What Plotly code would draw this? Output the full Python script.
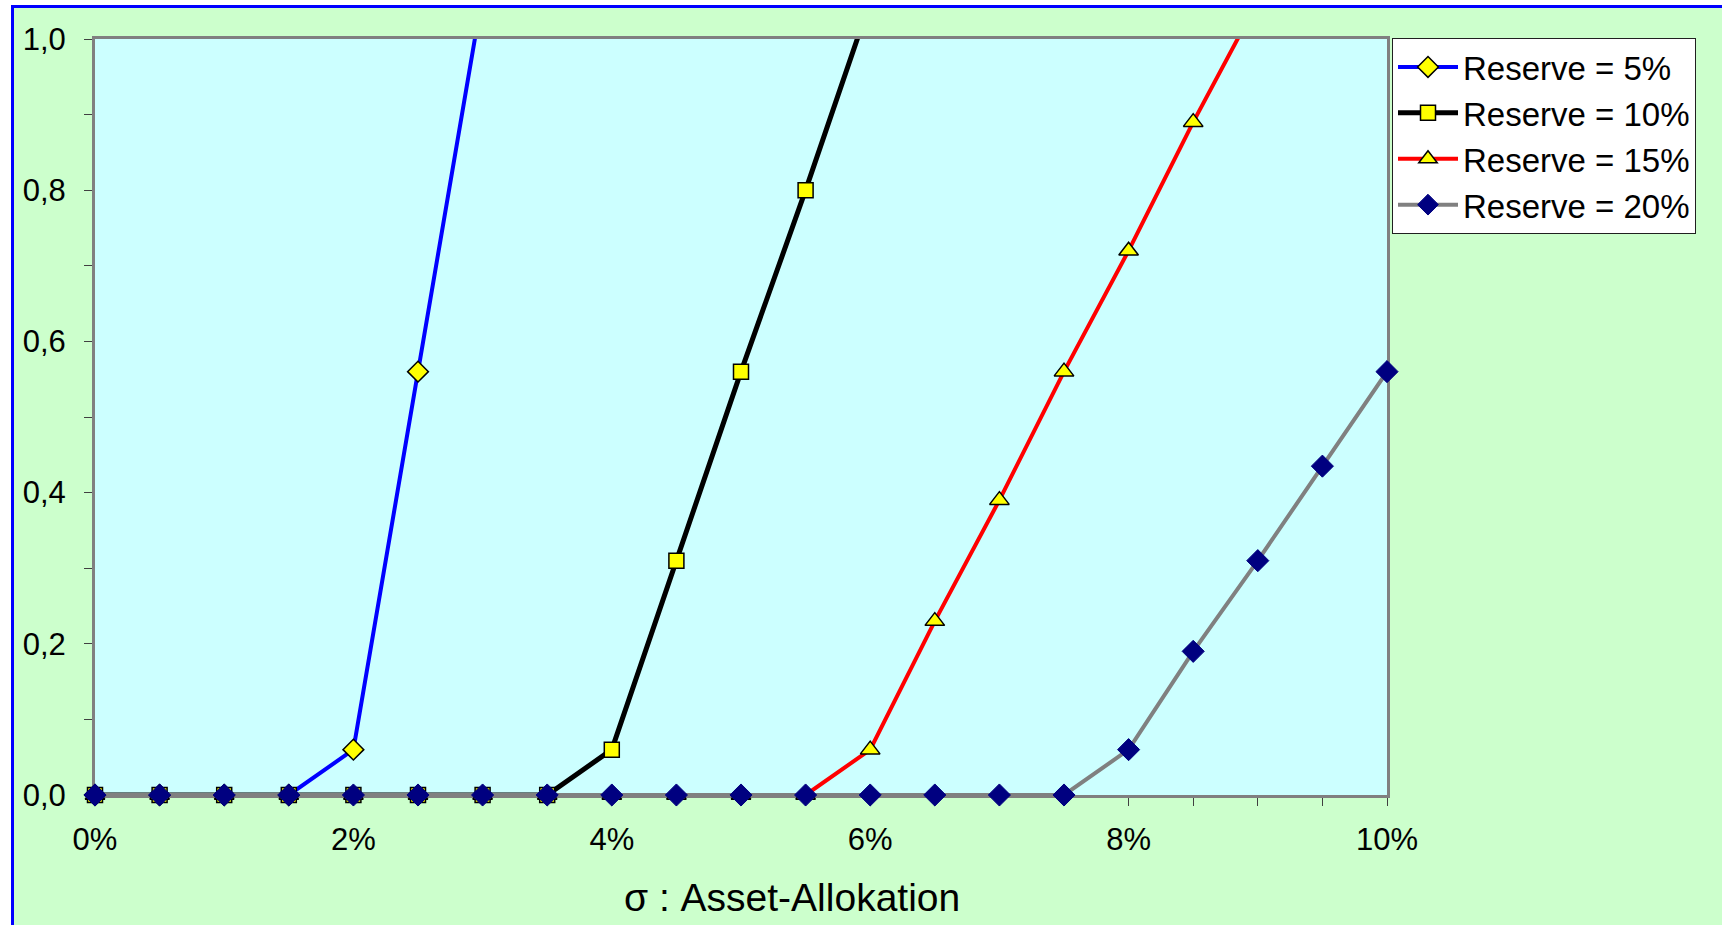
import plotly.graph_objects as go

# sigma of the asset allocation (fraction) and the probability for each reserve level
sigma = [0.000, 0.005, 0.010, 0.015, 0.020, 0.025, 0.030, 0.035, 0.040, 0.045,
         0.050, 0.055, 0.060, 0.065, 0.070, 0.075, 0.080, 0.085, 0.090, 0.095, 0.100]

reserve_names = ["Reserve = 5%", "Reserve = 10%", "Reserve = 15%", "Reserve = 20%"]

res_5 = [0.0, 0.0, 0.0, 0.0, 0.06, 0.56, 1.06]
res_10 = [0.0, 0.0, 0.0, 0.0, 0.0, 0.0, 0.0, 0.0, 0.06, 0.31, 0.56, 0.80, 1.05]
res_15 = [0.0, 0.0, 0.0, 0.0, 0.0, 0.0, 0.0, 0.0, 0.0, 0.0, 0.0, 0.0,
          0.06, 0.23, 0.39, 0.56, 0.72, 0.89, 1.05]
res_20 = [0.0, 0.0, 0.0, 0.0, 0.0, 0.0, 0.0, 0.0, 0.0, 0.0, 0.0, 0.0,
          0.0, 0.0, 0.0, 0.0, 0.06, 0.19, 0.31, 0.435, 0.56]

y_ticks = [0.0, 0.2, 0.4, 0.6, 0.8, 1.0]
x_ticks = [0.00, 0.02, 0.04, 0.06, 0.08, 0.10]

FONT = "Liberation Sans, Arial, sans-serif"
W, H = 1722, 925
L, R, T, B = 95, 335, 39, 130
PW, PH = W - L - R, H - T - B


def px_x(p):
    return (p - L) / PW


def px_y(p):
    return (H - B - p) / PH


styles = [
    dict(line=dict(color="#0000FF", width=4),
         marker=dict(symbol="diamond", size=16, color="#FFFF00",
                     line=dict(color="#000000", width=1.5))),
    dict(line=dict(color="#000000", width=5),
         marker=dict(symbol="square", size=15, color="#FFFF00",
                     line=dict(color="#000000", width=1.5))),
    dict(line=dict(color="#FF0000", width=4),
         marker=dict(symbol="triangle-up", size=17, color="#FFFF00",
                     line=dict(color="#000000", width=1.5))),
    dict(line=dict(color="#808080", width=4),
         marker=dict(symbol="diamond", size=17, color="#000080",
                     line=dict(color="#000080", width=1))),
]

fig = go.Figure()
for name, vals, st in zip(reserve_names, [res_5, res_10, res_15, res_20], styles):
    fig.add_trace(go.Scatter(
        x=sigma[:len(vals)], y=vals, name=name, mode="lines+markers",
        line=st["line"], marker=st["marker"], cliponaxis=False,
    ))

axis_common = dict(
    showline=True, mirror=True, linecolor="#808080", linewidth=3,
    showgrid=False, zeroline=False, ticks="outside", ticklen=8,
    tickcolor="#404040", tickwidth=1, layer="below traces",
    tickfont=dict(family=FONT, size=31, color="#000000"),
)

fig.update_xaxes(
    range=[0, 0.10], tickvals=x_ticks, tickformat=".0%",
    minor=dict(dtick=0.005, tick0=0, ticks="outside", ticklen=8,
               tickcolor="#404040", tickwidth=1),
    ticklabelstandoff=7, **axis_common,
)
fig.update_yaxes(
    range=[0, 1.0], tickvals=y_ticks, tickformat=".1f",
    minor=dict(dtick=0.1, tick0=0, ticks="outside", ticklen=8,
               tickcolor="#404040", tickwidth=1),
    ticklabelstandoff=12, **axis_common,
)

shapes = [
    # white strips outside the blue frame
    dict(type="rect", xref="paper", yref="paper", x0=px_x(-5), x1=px_x(11),
         y0=px_y(W), y1=px_y(-5), fillcolor="white", line_width=0, layer="below"),
    dict(type="rect", xref="paper", yref="paper", x0=px_x(-5), x1=px_x(W + 5),
         y0=px_y(5), y1=px_y(-5), fillcolor="white", line_width=0, layer="below"),
    # blue frame
    dict(type="line", xref="paper", yref="paper", x0=px_x(12.5), x1=px_x(12.5),
         y0=px_y(5), y1=px_y(H + 5), line=dict(color="#0000FF", width=3)),
    dict(type="line", xref="paper", yref="paper", x0=px_x(11), x1=px_x(W + 5),
         y0=px_y(6.5), y1=px_y(6.5), line=dict(color="#0000FF", width=3)),
]

fig.update_layout(
    width=W, height=H,
    margin=dict(l=L, r=R, t=T, b=B, autoexpand=False),
    paper_bgcolor="#CCFFCC", plot_bgcolor="#CCFFFF",
    separators=",.",
    font=dict(family=FONT, color="#000000"),
    showlegend=True,
    legend=dict(
        x=px_x(1392), y=px_y(38), xanchor="left", yanchor="top",
        bgcolor="#FFFFFF", bordercolor="#202020", borderwidth=1,
        font=dict(family=FONT, size=33, color="#000000"),
        tracegroupgap=0, itemwidth=60,
    ),
    shapes=shapes,
    annotations=[dict(
        text="σ : Asset-Allokation", xref="paper", yref="paper",
        x=px_x(792), y=px_y(897), xanchor="center", yanchor="middle",
        showarrow=False, font=dict(family=FONT, size=39, color="#000000"),
    )],
)

fig.write_html("out.html")
